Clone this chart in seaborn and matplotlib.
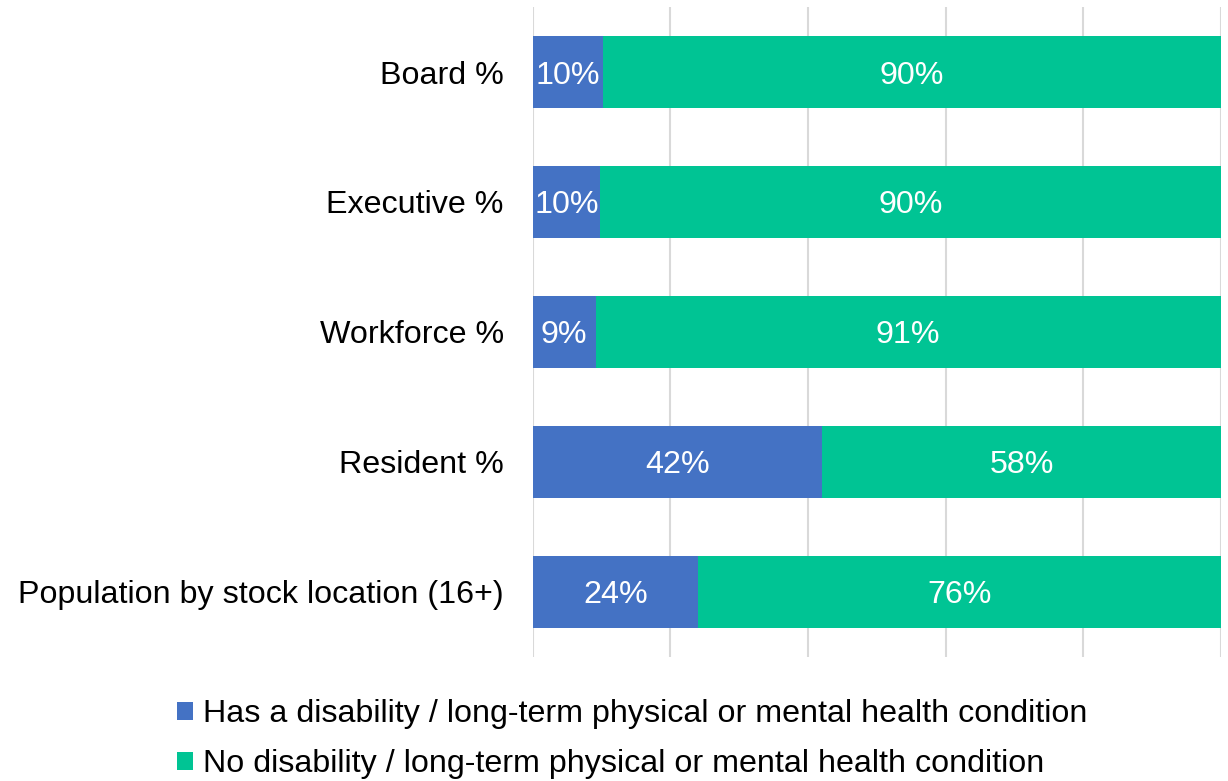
import matplotlib
matplotlib.use("Agg")
import matplotlib.pyplot as plt
import seaborn as sns
import pandas as pd

# data
categories = ["Board %", "Executive %", "Workforce %", "Resident %",
              "Population by stock location (16+)"]
has_disability = [10.2, 9.8, 9.1, 42.1, 24.0]
no_disability = [89.8, 90.2, 90.9, 57.9, 76.0]
series_names = ["Has a disability / long-term physical or mental health condition",
                "No disability / long-term physical or mental health condition"]

blue = "#4472C4"
green = "#00C494"
fs = 23.2

sns.set_theme(style="white")
plt.rcParams["font.family"] = ["Liberation Sans", "DejaVu Sans"]
plt.rcParams["text.color"] = "black"

df = pd.DataFrame({"cat": categories, "has": has_disability, "no": no_disability})
df["total"] = df["has"] + df["no"]

fig = plt.figure(figsize=(12.28, 7.81), dpi=100)
ax = fig.add_axes([0.434, 0.159, 0.56, 0.832])

# stacked: full bar in green, blue part drawn over it
sns.barplot(data=df, x="total", y="cat", color=green, width=0.55,
            saturation=1, ax=ax, zorder=2, linewidth=0, label=series_names[1])
sns.barplot(data=df, x="has", y="cat", color=blue, width=0.55,
            saturation=1, ax=ax, zorder=3, linewidth=0, label=series_names[0])
if ax.get_legend() is not None:
    ax.get_legend().remove()

for i, (h, n) in enumerate(zip(has_disability, no_disability)):
    ax.text(h / 2, i, f"{h:.0f}%", color="white", ha="center",
            va="center_baseline", fontsize=fs, zorder=4)
    ax.text(h + n / 2, i, f"{n:.0f}%", color="white", ha="center",
            va="center_baseline", fontsize=fs, zorder=4)

ax.set_xlim(0, 100)
ax.set_ylim(4.5, -0.5)
ax.set_xticks([0, 20, 40, 60, 80, 100])
ax.set_xticklabels([])
ax.xaxis.grid(True, color="#D9D9D9", linewidth=1.5, zorder=0)
ax.set_axisbelow(True)
ax.set_xlabel("")
ax.set_ylabel("")
ax.tick_params(axis="y", length=0, pad=21, labelsize=fs, labelcolor="black")
ax.tick_params(axis="x", length=0)
for s in ax.spines.values():
    s.set_visible(False)

handles, labels = ax.get_legend_handles_labels()
order = [labels.index(series_names[0]), labels.index(series_names[1])]
fig.legend([handles[i] for i in order], [labels[i] for i in order],
           loc="lower center", bbox_to_anchor=(0.515, -0.035), ncol=1,
           frameon=False, fontsize=fs, handlelength=0.5, handleheight=0.5,
           handletextpad=0.3, labelspacing=0.62, labelcolor="black")

fig.savefig("out.png", dpi=100)
